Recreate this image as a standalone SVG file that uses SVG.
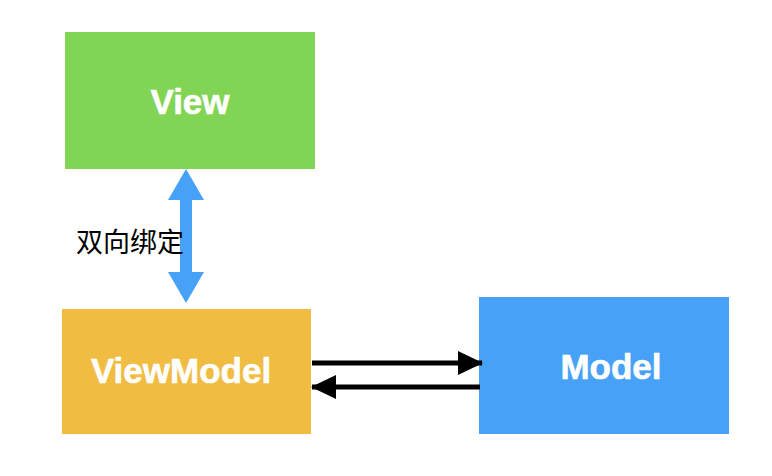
<svg xmlns="http://www.w3.org/2000/svg" width="772" height="476" viewBox="0 0 772 476">
<style>
.lbl{font-family:"Liberation Sans",Arial,sans-serif;font-weight:bold;font-size:35px;fill:#ffffff;text-anchor:middle;dominant-baseline:central;stroke:#ffffff;stroke-width:0.6}
.cn{font-family:"Liberation Sans","Noto Sans CJK SC",sans-serif;font-size:27px;fill:#000000;dominant-baseline:central}
.ln{stroke:#000;stroke-width:5;fill:none}
</style>
<defs>
<marker id="ah" markerUnits="userSpaceOnUse" markerWidth="26" markerHeight="24" refX="24" refY="12" orient="auto">
<path d="M0,0 L25,12 L0,24 Z" fill="#000"/>
</marker>
</defs>
<rect width="772" height="476" fill="#fff"/>
<g id="view">
<rect x="65" y="32" width="250" height="137" fill="#82d454"/>
<text class="lbl" x="190" y="101">View</text>
</g>
<g id="viewmodel">
<rect x="62" y="309" width="249" height="125" fill="#f0bc41"/>
<text class="lbl" x="181" y="370">ViewModel</text>
</g>
<g id="model">
<rect x="479" y="297" width="250" height="137" fill="#47a1f6"/>
<text class="lbl" x="611" y="366">Model</text>
</g>
<g id="connectors">
<path d="M186,169 L204,200 L192,200 L192,272 L204,272 L186,303 L168,272 L180,272 L180,200 L168,200 Z" fill="#47a1f6"/>
<line class="ln" x1="312" y1="363" x2="482" y2="363" marker-end="url(#ah)"/>
<line class="ln" x1="480" y1="387" x2="312" y2="387" marker-end="url(#ah)"/>
<text class="cn" x="76" y="243">双向绑定</text>
</g>
</svg>
